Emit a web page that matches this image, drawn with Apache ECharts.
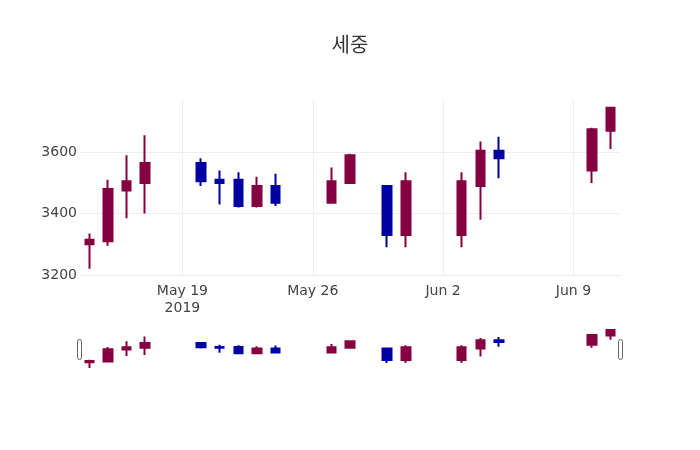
<!DOCTYPE html>
<html>
<head>
<meta charset="utf-8">
<script src="https://cdn.jsdelivr.net/npm/echarts@6/dist/echarts.min.js"></script>
<style>
html,body{margin:0;padding:0;background:#fff;}
#chart{width:700px;height:450px;}
</style>
</head>
<body>
<div id="chart"></div>
<script>
// ---- data ----
const title = '세중';
const dates = ['2019-05-14','2019-05-15','2019-05-16','2019-05-17','2019-05-20','2019-05-21','2019-05-22','2019-05-23','2019-05-24','2019-05-27','2019-05-28','2019-05-30','2019-05-31','2019-06-03','2019-06-04','2019-06-05','2019-06-10','2019-06-11'];
const openV  = [3300,3310,3475,3500,3565,3510,3510,3425,3490,3435,3500,3490,3330,3330,3490,3605,3540,3670];
const closeV = [3315,3480,3505,3565,3505,3500,3425,3490,3435,3505,3590,3330,3505,3505,3605,3580,3675,3745];
const lowV   = [3220,3295,3385,3400,3490,3430,3420,3420,3425,3435,3500,3290,3290,3290,3380,3515,3500,3610];
const highV  = [3335,3510,3590,3655,3580,3540,3535,3520,3530,3550,3595,3490,3535,3535,3635,3650,3680,3745];
const xTicks = ['2019-05-19','2019-05-26','2019-06-02','2019-06-09'];
const yTicks = [3200,3400,3600];

// ---- build ----
const DAY = 86400000;
function ts(s){ const p = s.split('-').map(Number); return Date.UTC(p[0], p[1]-1, p[2]); }
const MON = ['Jan','Feb','Mar','Apr','May','Jun','Jul','Aug','Sep','Oct','Nov','Dec'];
const xMin = ts(dates[0]) - DAY/2;
const xMax = ts(dates[dates.length-1]) + DAY/2;
const tickTs = xTicks.map(ts);
const candles = dates.map((d,i)=>[ts(d), openV[i], closeV[i], lowV[i], highV[i]]);

const UP = '#850040', DOWN = '#0000a0';
const itemStyle = {color: UP, color0: DOWN, borderColor: UP, borderColor0: DOWN, borderWidth: 2};
const FONT = 'DejaVu Sans';

const chart = echarts.init(document.getElementById('chart'), null, {renderer: 'canvas'});
chart.setOption({
  animation: false,
  backgroundColor: '#fff',
  title: {
    text: title, left: 'center', top: 29,
    textStyle: {fontFamily: 'Noto Sans CJK KR', fontSize: 20, fontWeight: 'normal', color: '#333'}
  },
  grid: [
    {left: 80, right: 80, top: 100, height: 175},
    {left: 80, right: 80, top: 330, height: 38}
  ],
  xAxis: [
    {
      type: 'value', gridIndex: 0, min: xMin, max: xMax,
      axisLine: {show: false},
      axisTick: {show: false, customValues: tickTs},
      axisLabel: {
        customValues: tickTs, margin: 8, fontFamily: FONT, fontSize: 14, color: '#444', lineHeight: 17,
        formatter: function(v){
          const d = new Date(v);
          let s = MON[d.getUTCMonth()] + ' ' + d.getUTCDate();
          if (v === tickTs[0]) s += '\n' + d.getUTCFullYear();
          return s;
        }
      },
      splitLine: {show: true, lineStyle: {color: '#eee', width: 1}}
    },
    {
      type: 'value', gridIndex: 1, min: xMin, max: xMax,
      axisLine: {show: false}, axisTick: {show: false}, axisLabel: {show: false}, splitLine: {show: false}
    }
  ],
  yAxis: [
    {
      type: 'value', gridIndex: 0, min: yTicks[0], max: 3770, interval: 200,
      axisLine: {show: false}, axisTick: {show: false},
      axisLabel: {margin: 3, fontFamily: FONT, fontSize: 14, color: '#444', showMaxLabel: false,
        formatter: function(v){ return String(v); }},
      splitLine: {show: true, showMaxLine: false, lineStyle: {color: '#eee', width: 1}}
    },
    {
      type: 'value', gridIndex: 1, min: 'dataMin', max: 'dataMax',
      axisLine: {show: false}, axisTick: {show: false}, axisLabel: {show: false}, splitLine: {show: false}
    }
  ],
  series: [
    {type: 'candlestick', xAxisIndex: 0, yAxisIndex: 0, barWidth: 9, data: candles, itemStyle: itemStyle},
    {type: 'candlestick', xAxisIndex: 1, yAxisIndex: 1, barWidth: 9, data: candles, itemStyle: itemStyle, silent: true}
  ],
  graphic: [
    {type: 'rect', shape: {x: 77.5, y: 339.5, width: 4, height: 20, r: 2}, style: {fill: '#fff', stroke: '#666', lineWidth: 1}},
    {type: 'rect', shape: {x: 618.5, y: 339.5, width: 4, height: 20, r: 2}, style: {fill: '#fff', stroke: '#666', lineWidth: 1}}
  ]
});
</script>
</body>
</html>
